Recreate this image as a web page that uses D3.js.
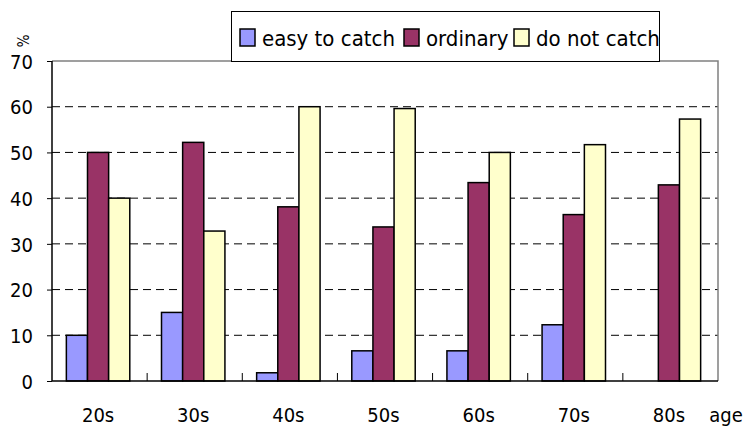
<!DOCTYPE html>
<html><head><meta charset="utf-8">
<script src="https://cdn.jsdelivr.net/npm/d3@7"></script>
<style>
body{margin:0;background:#fff;}
svg{display:block;}
text{font-family:"DejaVu Sans Condensed","DejaVu Sans",sans-serif;font-stretch:condensed;fill:#000;}
</style></head>
<body><svg id="c" width="744" height="428"></svg>
<script>
const categories = ["20s","30s","40s","50s","60s","70s","80s"];
const seriesNames = ["easy to catch","ordinary","do not catch"];
const easyToCatch = [10, 15, 1.8, 6.6, 6.6, 12.3, 0];
const ordinary = [50, 52.2, 38.1, 33.7, 43.4, 36.4, 42.9];
const doNotCatch = [40, 32.8, 60, 59.6, 50, 51.7, 57.3];
const yTicks = [0,10,20,30,40,50,60,70];
const colors = ["#9999FF","#993366","#FFFFCC"];

const seriesValues = [easyToCatch, ordinary, doNotCatch];
const svg = d3.select("#c");
const L=52, R=718, T=61, B=381;

const y = d3.scaleLinear().domain([0,70]).range([B,T]);
const x0 = d3.scaleBand().domain(categories).range([L-1.5,R-1.5]).paddingInner(1/3).paddingOuter(1/6);
const x1 = d3.scaleBand().domain(seriesNames).range([0,x0.bandwidth()]);

// gridlines
svg.append("g").selectAll("line").data(yTicks.filter(v=>v>0 && v<70)).join("line")
  .attr("x1",L).attr("x2",R).attr("y1",d=>y(d)).attr("y2",d=>y(d))
  .attr("stroke","#000").attr("stroke-width",1).attr("stroke-dasharray","8,5");

// plot border (top and right gray)
svg.append("path").attr("d",`M${L},${T}H${R}V${B}`).attr("fill","none").attr("stroke","#808080").attr("stroke-width",1.5);

// bars
const rows = categories.map((c,i)=>({c, vals: seriesNames.map((s,j)=>({s, v: seriesValues[j][i], col: colors[j]}))}));
const g = svg.append("g").selectAll("g").data(rows).join("g").attr("transform",d=>`translate(${x0(d.c)},0)`);
g.selectAll("rect").data(d=>d.vals.filter(v=>v.v>0)).join("rect")
  .attr("x",d=>x1(d.s)).attr("width",x1.bandwidth())
  .attr("y",d=>y(d.v)).attr("height",d=>B-y(d.v))
  .attr("fill",d=>d.col).attr("stroke","#000").attr("stroke-width",1.5);

// y axis
const yAxis = d3.axisLeft(y).tickValues(yTicks).tickSize(5).tickPadding(14).tickFormat(d3.format("d"));
const ya = svg.append("g").attr("transform",`translate(${L},0)`).call(yAxis);
ya.select(".domain").attr("stroke","#000").attr("stroke-width",1.5).attr("d",`M0,${T}V${B}`);
ya.selectAll(".tick line").attr("stroke","#000");
ya.selectAll(".tick text").attr("font-size",20).attr("font-family",null).attr("dy","0.36em");

// x axis
const step = (R-L)/categories.length;
const xa = svg.append("g").attr("transform",`translate(0,${B})`);
xa.append("line").attr("x1",L).attr("x2",R).attr("y1",0).attr("y2",0).attr("stroke","#000").attr("stroke-width",1.5);
xa.selectAll("line.tk").data(categories.slice(1)).join("line").attr("class","tk")
  .attr("x1",(d,i)=>L+step*(i+1)).attr("x2",(d,i)=>L+step*(i+1)).attr("y1",0).attr("y2",-8)
  .attr("stroke","#000").attr("stroke-width",1);
xa.selectAll("text").data(categories).join("text")
  .attr("x",d=>x0(d)+x0.bandwidth()/2).attr("y",41)
  .attr("text-anchor","middle").attr("font-size",20).text(d=>d);

svg.append("text").attr("x",726).attr("y",422).attr("text-anchor","middle").attr("font-size",20).text("age");
svg.append("text").attr("transform","translate(17,41) rotate(90)").attr("text-anchor","middle").attr("font-size",15).text("%");

// legend
const lg = svg.append("g");
lg.append("rect").attr("x",231.5).attr("y",11.5).attr("width",428).attr("height",50).attr("fill","#fff").attr("stroke","#000").attr("stroke-width",1);
const legendX = [240, 404, 514];
seriesNames.forEach((s,i)=>{
  lg.append("rect").attr("x",legendX[i]).attr("y",29).attr("width",15).attr("height",17).attr("fill",colors[i]).attr("stroke","#000").attr("stroke-width",1.5);
  lg.append("text").attr("x",legendX[i]+22).attr("y",46).attr("font-size",22).text(s);
});
</script></body></html>
